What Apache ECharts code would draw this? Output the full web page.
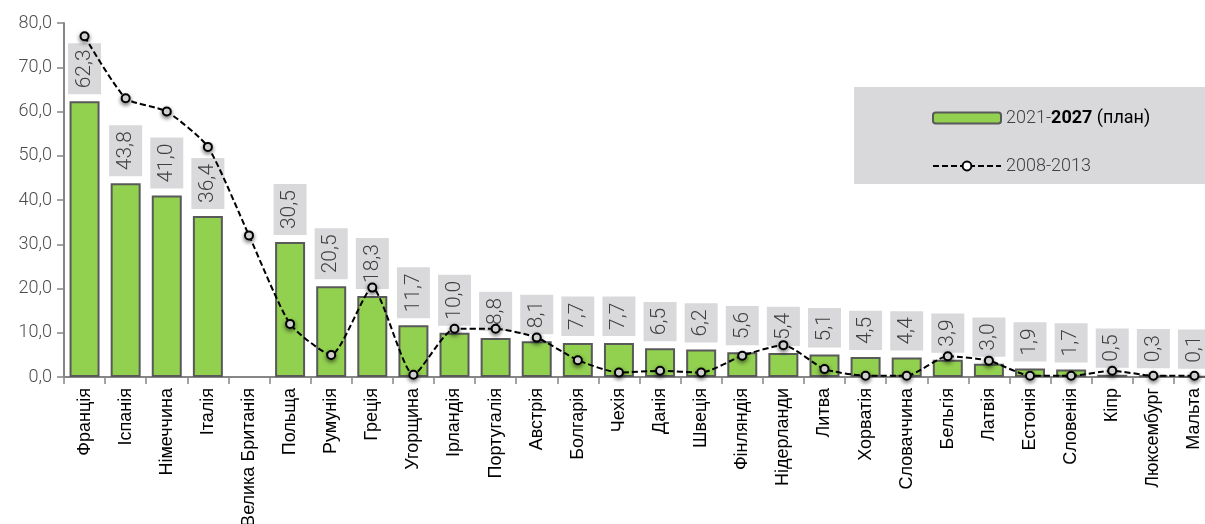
<!DOCTYPE html>
<html>
<head>
<meta charset="utf-8">
<script src="https://cdn.jsdelivr.net/npm/echarts@6/dist/echarts.min.js"></script>
<style>
  html, body { margin: 0; padding: 0; background: #fff; }
  #chart { width: 1205px; height: 524px; }
</style>
</head>
<body>
<div id="chart"></div>
<script>
// дані
var countries = ['Франція', 'Іспанія', 'Німеччина', 'Італія', 'Велика Британія', 'Польща', 'Румунія', 'Греція',
  'Угорщина', 'Ірландія', 'Португалія', 'Австрія', 'Болгарія', 'Чехія', 'Данія', 'Швеція', 'Фінляндія',
  'Нідерланди', 'Литва', 'Хорватія', 'Словаччина', 'Бельгія', 'Латвія', 'Естонія', 'Словенія', 'Кіпр',
  'Люксембург', 'Мальта']
var plan2127 = [62.3, 43.8, 41.0, 36.4, null, 30.5, 20.5, 18.3, 11.7, 10.0, 8.8, 8.1, 7.7, 7.7, 6.5, 6.2, 5.6,
  5.4, 5.1, 4.5, 4.4, 3.9, 3.0, 1.9, 1.7, 0.5, 0.3, 0.1]
var fact0813 = [77.0, 63.0, 60.0, 52.0, 32.0, 12.0, 5.0, 20.2, 0.5, 10.9, 10.9, 8.9, 3.8, 1.0, 1.4, 1.0, 4.8,
  7.2, 1.8, 0.3, 0.3, 4.7, 3.7, 0.3, 0.3, 1.4, 0.3, 0.3]
var yTicks = [0, 10, 20, 30, 40, 50, 60, 70, 80]

var chart = echarts.init(document.getElementById('chart'))

function comma(v) {
  return Number(v).toFixed(1).replace('.', ',')
}

chart.setOption({
  animation: false,
  grid: {
    left: 64,
    width: 1151,
    top: 23,
    bottom: 147,
    outerBoundsMode: 'none'
  },
  graphic: [
    {
      type: 'rect',
      shape: { x: 854, y: 87, width: 360, height: 97 },
      style: { fill: '#d9d9dc' },
      z: 0
    }
  ],
  legend: [
    {
      data: ['2021-2027 (план)'],
      left: 927,
      top: 104,
      itemWidth: 68,
      itemHeight: 11,
      formatter: function () {
        return '{a|2021-}{b|2027}{c| (план)}'
      },
      textStyle: {
        rich: {
          a: { fontFamily: 'Roboto', fontWeight: 300, fontSize: 18, color: '#404040', lineHeight: 18 },
          b: { fontFamily: 'Roboto', fontWeight: 'bold', fontSize: 18, color: '#000', lineHeight: 18 },
          c: { fontFamily: 'Roboto', fontWeight: 400, fontSize: 18, color: '#000', lineHeight: 18 }
        }
      }
    },
    {
      data: ['2008-2013'],
      left: 927,
      top: 152,
      itemWidth: 68,
      itemHeight: 11,
      textStyle: { fontFamily: 'Roboto', fontWeight: 300, fontSize: 18, color: '#404040', lineHeight: 18 }
    }
  ],
  xAxis: {
    type: 'category',
    data: countries,
    axisLine: { lineStyle: { color: '#868686', width: 2 } },
    axisTick: { show: true, length: 7, alignWithLabel: false, lineStyle: { color: '#868686', width: 1.5 } },
    axisLabel: {
      interval: 0,
      rotate: 90,
      margin: 11,
      color: '#000',
      fontFamily: 'Liberation Sans',
      fontSize: 18
    }
  },
  yAxis: {
    type: 'value',
    min: yTicks[0],
    max: yTicks[yTicks.length - 1],
    interval: 10,
    axisLine: { show: true, lineStyle: { color: '#868686', width: 2 } },
    axisTick: { show: true, length: 7, lineStyle: { color: '#868686', width: 1.5 } },
    splitLine: { show: false },
    axisLabel: {
      margin: 12,
      color: '#4d4d4d',
      fontFamily: 'Roboto',
      fontWeight: 300,
      fontSize: 18,
      formatter: function (v) { return comma(v) }
    }
  },
  series: [
    {
      name: '2021-2027 (план)',
      type: 'bar',
      data: plan2127,
      barWidth: 30,
      itemStyle: { color: '#92d050', borderColor: '#595959', borderWidth: 2 },
      label: {
        show: true,
        position: 'top',
        distance: 7,
        rotate: 90,
        align: 'left',
        verticalAlign: 'middle',
        backgroundColor: '#d9d9dc',
        padding: [7, 6, 5, 6],
        color: '#404040',
        fontFamily: 'Roboto',
        fontWeight: 300,
        fontSize: 21,
        lineHeight: 21,
        formatter: function (p) { return comma(p.value) }
      },
      z: 2
    },
    {
      name: '2008-2013',
      type: 'line',
      data: fact0813,
      smooth: 0.2,
      symbol: 'circle',
      symbolSize: 8,
      lineStyle: { color: '#000', width: 2, type: [6, 3] },
      itemStyle: {
        color: '#fff',
        borderColor: '#000',
        borderWidth: 2,
        shadowBlur: 4,
        shadowColor: 'rgba(0,0,0,0.5)',
        shadowOffsetY: 2
      },
      z: 5
    }
  ]
})
</script>
</body>
</html>
